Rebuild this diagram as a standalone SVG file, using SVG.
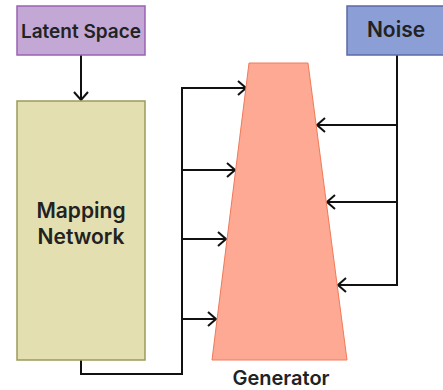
<svg xmlns="http://www.w3.org/2000/svg" width="443" height="390" viewBox="0 0 443 390">
  <defs>
    <marker id="arrow" viewBox="0 0 10 16" refX="9" refY="8" markerWidth="10" markerHeight="16" markerUnits="userSpaceOnUse" orient="auto">
      <path d="M1,1 L9,8 L1,15" fill="none" stroke="#111" stroke-width="2"/>
    </marker>
  </defs>
  <style>
    text { font-family: Inter, "Liberation Sans", sans-serif; font-weight: 600; fill: #222; text-anchor: middle; }
    .wire { fill: none; stroke: #111; stroke-width: 2; }
  </style>
  <rect width="443" height="390" fill="#fff"/>

  <g id="connectors">
    <!-- latent space to mapping network -->
    <path class="wire" d="M81,55 V100" marker-end="url(#arrow)"/>
    <!-- mapping network output bus -->
    <path class="wire" d="M81,360 V374 H182 V88"/>
    <path class="wire" d="M181,88 H246" marker-end="url(#arrow)"/>
    <path class="wire" d="M182,170 H235" marker-end="url(#arrow)"/>
    <path class="wire" d="M182,239 H226" marker-end="url(#arrow)"/>
    <path class="wire" d="M182,319 H216" marker-end="url(#arrow)"/>
    <!-- noise bus -->
    <path class="wire" d="M397,55 V285"/>
    <path class="wire" d="M398,125 H317" marker-end="url(#arrow)"/>
    <path class="wire" d="M398,202 H327" marker-end="url(#arrow)"/>
    <path class="wire" d="M398,285 H338" marker-end="url(#arrow)"/>
  </g>

  <g id="latent-space">
    <rect x="17" y="6" width="128" height="49" fill="#c3a8d6" stroke="#9a62b2" stroke-width="1.5"/>
    <text x="81" y="38" font-size="19">Latent Space</text>
  </g>

  <g id="mapping-network">
    <rect x="17" y="101" width="128" height="259" fill="#e3dfb0" stroke="#9a9a5c" stroke-width="1.5"/>
    <text x="81" y="218" font-size="21">Mapping</text>
    <text x="81" y="244" font-size="21">Network</text>
  </g>

  <g id="noise">
    <rect x="347" y="6" width="100" height="49" fill="#8b9fd6" stroke="#5c6aa8" stroke-width="1.5"/>
    <text x="396" y="37" font-size="21">Noise</text>
  </g>

  <g id="generator">
    <polygon points="249,63 308,63 347,360 212,360" fill="#fda994" stroke="#f07a58" stroke-width="1"/>
    <text x="281" y="385" font-size="20">Generator</text>
  </g>
</svg>
